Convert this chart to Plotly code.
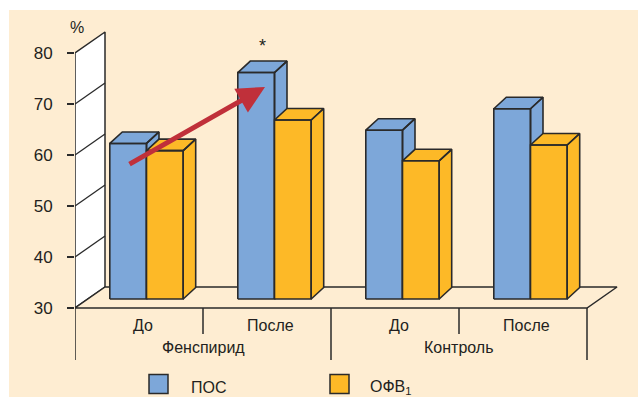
import plotly.graph_objects as go

# ---------------- data ----------------
groups = ["Фенспирид", "Контроль"]
subcats = ["До", "После", "До", "После"]
series_names = ["ПОС", "ОФВ<sub>1</sub>"]
pos_values = [60.5, 74.4, 63.1, 67.3]      # ПОС
ofv_values = [59.1, 65.1, 57.1, 60.2]      # ОФВ1
y_ticks = [30, 40, 50, 60, 70, 80]
star_label = "*"

# ---------------- styles / geometry ----------------
W, H = 638, 397
ML = 75                 # left margin (px) -> y axis position
PXX = 128.0             # px per category unit
PXY = 5.1               # px per value unit
Y_BASE = 30
Y0_PX = 308             # pixel row of the value 30
BLUE = "#7DA7D9"
ORANGE = "#FDB927"
CREAM = "#FEEDD2"
EDGE = "#2a2a2a"
TXT = "#231F20"
RED = "#C0303A"
FONT = "Liberation Sans Narrow, Arial Narrow, Liberation Sans, sans-serif"

FX, FY = 7.5 / PXX, 9.0 / PXY        # front-face offset of bars (half depth)
DX, DY = 12.5 / PXX, 11.5 / PXY      # bar depth
BW = 36.7 / PXX                      # bar width
WX, WY = 30.0 / PXX, 21.0 / PXY      # wall / floor depth

x_lo = -0.5
x_hi = -0.5 + (W - ML) / PXX
y_lo = Y_BASE - (H - Y0_PX) / PXY
y_hi = Y_BASE + Y0_PX / PXY
y_top = y_ticks[-1]
n = len(subcats)
x_left, x_right = -0.5, n - 0.5


def px_x(px):
    return (px - ML) / (W - ML)


def px_y(py):
    return 1 - py / H


fig = go.Figure()

# side wall (white) with grid lines
fig.add_trace(go.Scatter(
    x=[x_left, x_left, x_left + WX, x_left + WX, x_left],
    y=[Y_BASE, y_top, y_top + WY, Y_BASE + WY, Y_BASE],
    mode="lines", fill="toself", fillcolor="white",
    line=dict(color=EDGE, width=1.5), hoverinfo="skip", showlegend=False))
gx, gy = [], []
for v in y_ticks[1:-1]:
    gx += [x_left, x_left + WX, None]
    gy += [v, v + WY, None]
fig.add_trace(go.Scatter(x=gx, y=gy, mode="lines",
                         line=dict(color=EDGE, width=1.3),
                         hoverinfo="skip", showlegend=False))

# floor
fig.add_trace(go.Scatter(
    x=[x_left, x_right, x_right + WX, x_left + WX, x_left],
    y=[Y_BASE, Y_BASE, Y_BASE + WY, Y_BASE + WY, Y_BASE],
    mode="lines", fill="toself", fillcolor=CREAM,
    line=dict(color=EDGE, width=1.5), hoverinfo="skip", showlegend=False))


def bar_polys(x0, v):
    x1 = x0 + BW
    b = Y_BASE + FY
    t = v + FY
    xs = [x1, x1 + DX, x1 + DX, x1, x1, None,              # side
          x0, x1, x1 + DX, x0 + DX, x0, None,              # top
          x0, x1, x1, x0, x0]                              # front
    ys = [b, b + DY, t + DY, t, b, None,
          t, t, t + DY, t + DY, t, None,
          b, b, t, t, b]
    return xs, ys


for i in range(n):
    for x0, v, col in [(i - BW + FX, pos_values[i], BLUE),
                       (i + FX, ofv_values[i], ORANGE)]:
        xs, ys = bar_polys(x0, v)
        fig.add_trace(go.Scatter(x=xs, y=ys, mode="lines", fill="toself",
                                 fillcolor=col,
                                 line=dict(color=EDGE, width=1.6),
                                 hoverinfo="skip", showlegend=False))

# category separators below the floor
sx, sy = [], []
short_drop = 26 / PXY
long_drop = 52 / PXY
for k in range(n + 1):
    xb = x_left + k
    drop = long_drop if k % 2 == 0 else short_drop
    sx += [xb, xb, None]
    sy += [Y_BASE, Y_BASE - drop, None]
fig.add_trace(go.Scatter(x=sx, y=sy, mode="lines",
                         line=dict(color=EDGE, width=1.5),
                         hoverinfo="skip", showlegend=False))

ann = []
# sub-category labels
for i, lab in enumerate(subcats):
    ann.append(dict(x=i + 3.5 / PXX, y=Y_BASE - 17 / PXY, text=lab,
                    showarrow=False, xanchor="center", yanchor="middle",
                    font=dict(family=FONT, size=16, color=TXT)))
# group labels
for g, lab in enumerate(groups):
    ann.append(dict(x=2 * g + 0.5, y=Y_BASE - 39 / PXY, text=lab,
                    showarrow=False, xanchor="center", yanchor="middle",
                    font=dict(family=FONT, size=16, color=TXT)))
# percent sign
ann.append(dict(x=x_left + 2 / PXX, y=y_top + 26 / PXY, text="%",
                showarrow=False, xanchor="center", yanchor="middle",
                font=dict(family=FONT, size=16, color=TXT)))
# asterisk above the significant bar
ann.append(dict(x=1 - BW / 2 + FX + DX / 2, y=pos_values[1] + FY + DY + 15 / PXY,
                text=star_label, showarrow=False, xanchor="center",
                yanchor="middle", font=dict(family=FONT, size=18, color=TXT)))
# red arrow
ann.append(dict(x=x_left + (265 - ML) / PXX, y=Y_BASE + (Y0_PX - 87) / PXY,
                ax=x_left + (128 - ML) / PXX, ay=Y_BASE + (Y0_PX - 165) / PXY,
                xref="x", yref="y", axref="x", ayref="y", text="",
                showarrow=True, arrowhead=2, arrowsize=1.1, arrowwidth=5,
                arrowcolor=RED, standoff=0))

# legend
shapes = [dict(type="rect", xref="paper", yref="paper",
               x0=px_x(9), x1=px_x(W + 2), y0=px_y(H + 2), y1=px_y(10),
               fillcolor=CREAM, line=dict(width=0), layer="below")]
leg = [(149, 189, BLUE, series_names[0]), (330, 368, ORANGE, series_names[1])]
for sx0, tx0, col, name in leg:
    shapes.append(dict(type="rect", xref="paper", yref="paper",
                       x0=px_x(sx0), x1=px_x(sx0 + 19), y0=px_y(393.5),
                       y1=px_y(374.5), fillcolor=col,
                       line=dict(color=EDGE, width=1.5)))
    ann.append(dict(xref="paper", yref="paper", x=px_x(tx0), y=px_y(387),
                    text=name, showarrow=False, xanchor="left",
                    yanchor="middle",
                    font=dict(family=FONT, size=16, color=TXT)))

fig.update_layout(
    width=W, height=H,
    margin=dict(l=ML, r=0, t=0, b=0, pad=0),
    paper_bgcolor="white", plot_bgcolor="rgba(0,0,0,0)",
    xaxis=dict(range=[x_lo, x_hi], visible=False, fixedrange=True),
    yaxis=dict(range=[y_lo, y_hi], tickvals=y_ticks,
               ticktext=[str(v) for v in y_ticks],
               ticks="outside", ticklen=7, tickwidth=1.5, tickcolor=EDGE,
               showgrid=False, zeroline=False, showline=False,
               ticklabelstandoff=11,
               tickfont=dict(family=FONT, size=17, color=TXT),
               fixedrange=True),
    annotations=ann, shapes=shapes, showlegend=False,
)

fig.write_html("out.html")
